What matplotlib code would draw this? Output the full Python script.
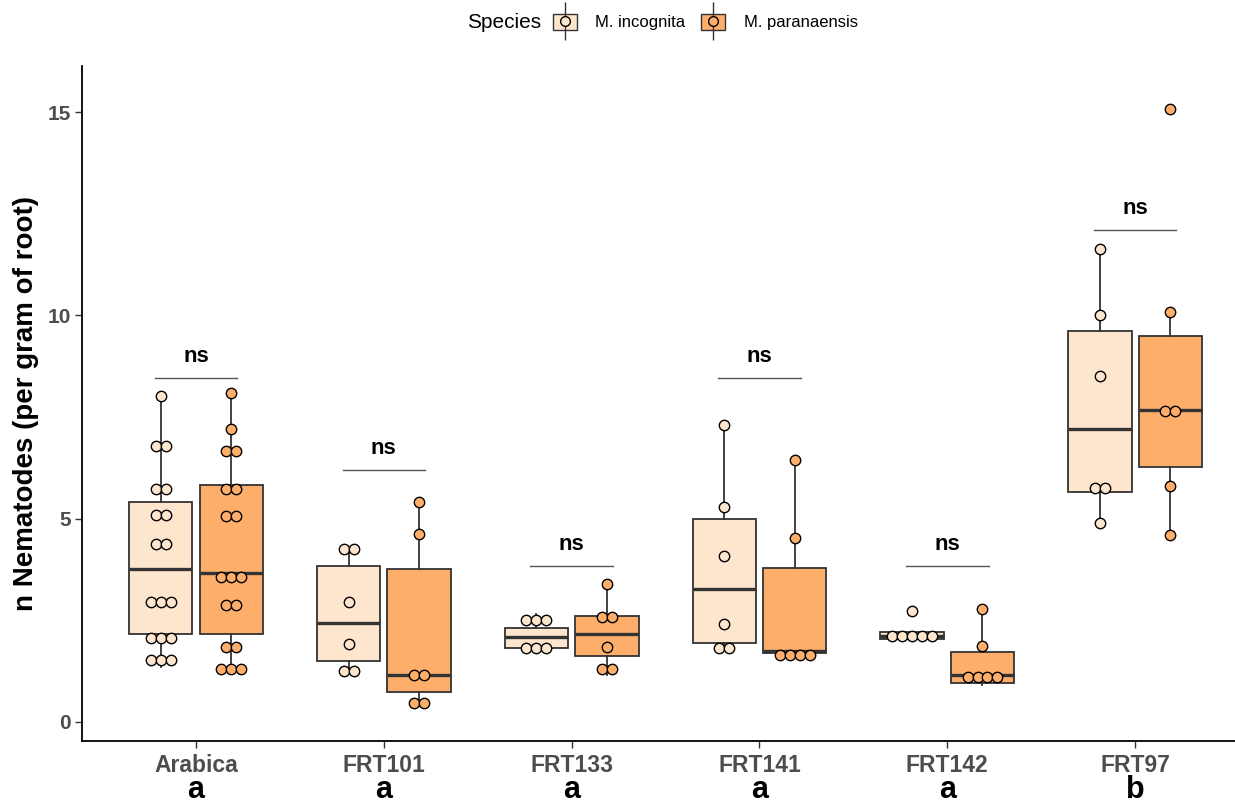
import matplotlib
matplotlib.use("Agg")
import matplotlib.pyplot as plt
from matplotlib.patches import Patch
from matplotlib.lines import Line2D
import numpy as np

plt.rcParams["font.family"] = ["Liberation Sans", "DejaVu Sans"]

cultivars = ["Arabica", "FRT101", "FRT133", "FRT141", "FRT142", "FRT97"]
letters = ["a", "a", "a", "a", "a", "b"]
species = ["M. incognita", "M. paranaensis"]
colors = ["#FEE6CE", "#FDAE6B"]

# dot positions (binned values)
inc_points = [
    [8.02, 6.79, 6.79, 5.73, 5.73, 5.09, 5.09, 4.38, 4.38,
     2.95, 2.95, 2.95, 2.07, 2.07, 2.07, 1.52, 1.52, 1.52],
    [4.25, 4.25, 2.95, 1.92, 1.25, 1.25],
    [2.51, 2.51, 2.51, 1.82, 1.82, 1.82],
    [7.30, 5.29, 4.08, 2.41, 1.82, 1.82],
    [2.73, 2.11, 2.11, 2.11, 2.11, 2.11],
    [11.63, 10.01, 8.51, 5.75, 5.75, 4.89],
]
par_points = [
    [8.09, 7.20, 6.66, 6.66, 5.73, 5.73, 5.07, 5.07, 3.57, 3.57, 3.57,
     2.88, 2.88, 1.84, 1.84, 1.30, 1.30, 1.30],
    [5.41, 4.62, 1.16, 1.16, 0.47, 0.47],
    [3.39, 2.58, 2.58, 1.84, 1.30, 1.30],
    [6.44, 4.52, 1.65, 1.65, 1.65, 1.65],
    [2.78, 1.87, 1.11, 1.11, 1.11, 1.11],
    [15.07, 10.08, 7.65, 7.65, 5.80, 4.60],
]

# box stats: (whislo, q1, med, q3, whishi)
inc_box = [
    (1.35, 2.16, 3.76, 5.41, 8.02),
    (1.25, 1.50, 2.43, 3.84, 4.25),
    (1.82, 1.82, 2.10, 2.31, 2.65),
    (1.80, 1.94, 3.27, 4.99, 7.30),
    (2.04, 2.04, 2.11, 2.21, 2.21),
    (4.89, 5.66, 7.20, 9.61, 11.63),
]
par_box = [
    (1.20, 2.16, 3.66, 5.83, 8.09),
    (0.40, 0.74, 1.16, 3.76, 5.41),
    (1.16, 1.62, 2.16, 2.61, 3.39),
    (1.70, 1.70, 1.74, 3.79, 6.44),
    (0.91, 0.96, 1.16, 1.72, 2.78),
    (4.60, 6.27, 7.67, 9.49, 10.08),
]

ns_y = [8.46, 6.20, 3.84, 8.46, 3.84, 12.10]

fig = plt.figure(figsize=(12.35, 8.06), dpi=100)
ax = fig.add_axes([0.0664, 0.0806, 0.9336, 0.8374])

x = np.arange(1, len(cultivars) + 1)
dodge = 0.1875
bw = 0.3375
dot_step = 0.053

for s, (pts_all, box_all, col) in enumerate(
        [(inc_points, inc_box, colors[0]), (par_points, par_box, colors[1])]):
    pos = x + (-dodge if s == 0 else dodge)
    stats = []
    for lo, q1, med, q3, hi in box_all:
        stats.append(dict(whislo=lo, q1=q1, med=med, q3=q3, whishi=hi, fliers=[]))
    ax.bxp(stats, positions=pos, widths=bw, showcaps=False, showfliers=False,
           patch_artist=True,
           boxprops=dict(facecolor=col, edgecolor="#333333", linewidth=1.3),
           whiskerprops=dict(color="#333333", linewidth=1.3),
           medianprops=dict(color="#333333", linewidth=2.4),
           zorder=2)
    # centered dot stacks
    for p, pts in zip(pos, pts_all):
        vals = np.array(pts)
        for v in np.unique(vals):
            n = int(np.sum(vals == v))
            offs = (np.arange(n) - (n - 1) / 2) * dot_step
            ax.scatter(p + offs, np.full(n, v), s=56, facecolor=col,
                       edgecolor="black", linewidth=1.0, zorder=3)

for xi, yv in zip(x, ns_y):
    ax.plot([xi - 0.22, xi + 0.22], [yv, yv], color="#555555", lw=1.0, zorder=1)
    ax.text(xi, yv + 0.52, "ns", ha="center", va="center", fontsize=16,
            fontweight="bold")

ax.set_xlim(0.393, 6.532)
ax.set_ylim(-0.47, 16.13)
ax.set_yticks([0, 5, 10, 15])
ax.set_xticks(x)
ax.set_xticklabels(cultivars)
for lab in ax.get_xticklabels():
    lab.set_fontweight("bold")
    lab.set_color("#4D4D4D")
    lab.set_fontsize(16.5)
for lab in ax.get_yticklabels():
    lab.set_fontweight("bold")
    lab.set_color("#4D4D4D")
    lab.set_fontsize(15)
ax.tick_params(axis="both", length=5, width=1, color="#333333", pad=3)
ax.tick_params(axis="x", pad=4)
ax.spines["top"].set_visible(False)
ax.spines["right"].set_visible(False)
for sp in ["left", "bottom"]:
    ax.spines[sp].set_linewidth(1.3)
ax.set_ylabel("n Nematodes (per gram of root)", fontsize=20, fontweight="bold",
              labelpad=6)

for xi, let in zip(x, letters):
    ax.text(xi, -0.073, let, transform=ax.get_xaxis_transform(), ha="center",
            va="center", fontsize=22, fontweight="bold")

# legend
fig.text(0.378, 0.9727, "Species", ha="left", va="center", fontsize=15)
handles = []
for col in colors:
    handles.append((Patch(facecolor=col, edgecolor="#333333", linewidth=1.0),
                    Line2D([], [], marker="|", markersize=27, color="#333333",
                           linestyle="none", markeredgewidth=1.0),
                    Line2D([], [], marker="o", markersize=7, markerfacecolor=col,
                           markeredgecolor="black", linestyle="none")))
fig.legend(handles, species, loc="center left", bbox_to_anchor=(0.4478, 0.9727),
           ncol=2, frameon=False, fontsize=12, handlelength=1.44, handleheight=1.1,
           columnspacing=0.96, handletextpad=1.1, borderpad=0, borderaxespad=0)

fig.savefig("out.png", dpi=100)
